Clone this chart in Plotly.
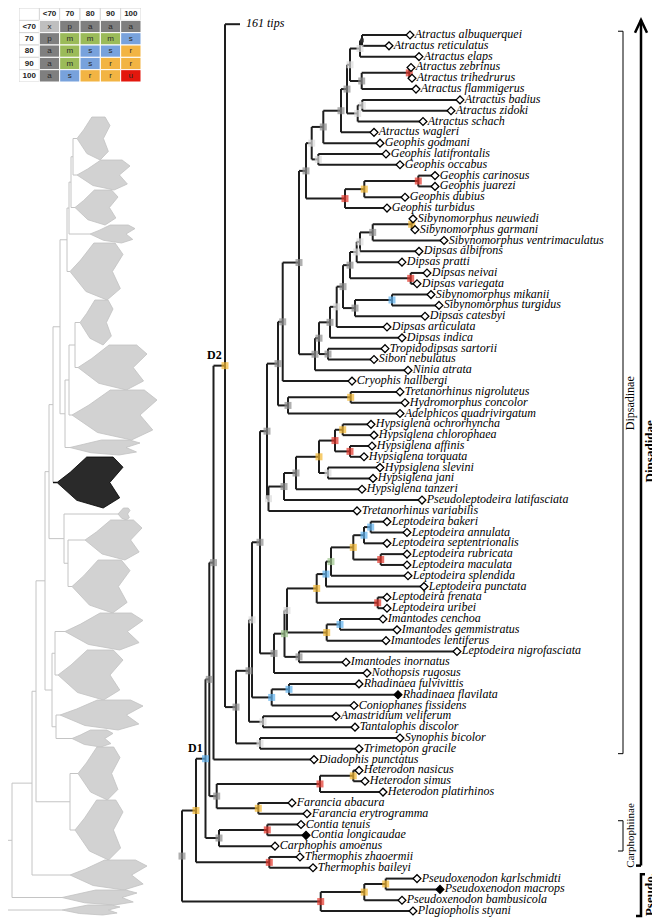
import plotly.graph_objects as go

# page body has an 8px margin: the figure is placed at (8, 8) in the window
OFF = 8
W, H = 652, 913
BOTTOM = OFF + H


def dx(px):
    return (px - OFF) / W


def dy(py):
    return 1 - (py - OFF) / H


# ---------------- main tree: tips (top to bottom) ----------------
tip_names = [
    "161 tips", "Atractus albuquerquei", "Atractus reticulatus", "Atractus elaps", "Atractus zebrinus",
    "Atractus trihedrurus", "Atractus flammigerus", "Atractus badius", "Atractus zidoki", "Atractus schach",
    "Atractus wagleri", "Geophis godmani", "Geophis latifrontalis", "Geophis occabus", "Geophis carinosus",
    "Geophis juarezi", "Geophis dubius", "Geophis turbidus", "Sibynomorphus neuwiedi", "Sibynomorphus garmani",
    "Sibynomorphus ventrimaculatus", "Dipsas albifrons", "Dipsas pratti", "Dipsas neivai", "Dipsas variegata",
    "Sibynomorphus mikanii", "Sibynomorphus turgidus", "Dipsas catesbyi", "Dipsas articulata", "Dipsas indica",
    "Tropidodipsas sartorii", "Sibon nebulatus", "Ninia atrata", "Cryophis hallbergi", "Tretanorhinus nigroluteus",
    "Hydromorphus concolor", "Adelphicos quadrivirgatum", "Hypsiglena ochrorhyncha", "Hypsiglena chlorophaea",
    "Hypsiglena affinis", "Hypsiglena torquata", "Hypsiglena slevini", "Hypsiglena jani", "Hypsiglena tanzeri",
    "Pseudoleptodeira latifasciata", "Tretanorhinus variabilis", "Leptodeira bakeri", "Leptodeira annulata",
    "Leptodeira septentrionalis", "Leptodeira rubricata", "Leptodeira maculata", "Leptodeira splendida",
    "Leptodeira punctata", "Leptodeira frenata", "Leptodeira uribei", "Imantodes cenchoa", "Imantodes gemmistratus",
    "Imantodes lentiferus", "Leptodeira nigrofasciata", "Imantodes inornatus", "Nothopsis rugosus",
    "Rhadinaea fulvivittis", "Rhadinaea flavilata", "Coniophanes fissidens", "Amastridium veliferum",
    "Tantalophis discolor", "Synophis bicolor", "Trimetopon gracile", "Diadophis punctatus", "Heterodon nasicus",
    "Heterodon simus", "Heterodon platirhinos", "Farancia abacura", "Farancia erytrogramma", "Contia tenuis",
    "Contia longicaudae", "Carphophis amoenus", "Thermophis zhaoermii", "Thermophis baileyi",
    "Pseudoxenodon karlschmidti", "Pseudoxenodon macrops", "Pseudoxenodon bambusicola", "Plagiopholis styani",
]
# distance of each tip from the root (relative units)
tip_depth = [
    58, 228, 207, 237, 229, 230, 234, 278, 269, 241,
    192, 198, 204, 218, 253, 253, 223, 205, 231, 233,
    262, 237, 220, 245, 235, 249, 257, 243, 205, 220,
    203, 192, 226, 170, 218, 223, 218, 189, 192, 190,
    182, 198, 191, 180, 240, 175, 205, 225, 205, 225,
    225, 226, 242, 205, 205, 201, 215, 204, 275, 164,
    185, 177, 216, 172, 154, 173, 218, 177, 132, 177,
    183, 201, 110, 125, 119, 124, 93, 118, 131, 235,
    258, 220, 231,
]
filled_tips = ["Rhadinaea flavilata", "Contia longicaudae", "Pseudoxenodon macrops"]

support_colors = {'g': '#8d8d8d', 'l': '#dcdcdc', 'r': '#e2342a', 'y': '#f2b630',
                  'b': '#5fb2ee', 'n': '#9cc48b', 'k': '#333333'}


def N(depth, support, *kids):
    return {'depth': depth, 'support': support, 'kids': list(kids)}


tree = N(0, 'g',
  N(14, 'y',
    N(23.5, 'b',
      N(27.3, 'g',
        N(31.5, 'g',
          N(43, 'y',
            "161 tips",
            N(54, 'g',
              N(67, 'g',
                N(70, 'l',
                  N(78, 'g',
                    N(85, 'g',
                      N(96, 'g',
                        N(100.7, 'g',
                          N(117, 'g',
                            N(124, 'g',
                              N(129.7, 'l',
                                N(141.3, 'g',
                                  N(159, 'g',
                                    N(165, 'g',
                                      N(168, 'l',
                                        N(178, 'l', N(180, 'k', "Atractus albuquerquei", "Atractus reticulatus"), "Atractus elaps"),
                                        N(179.7, 'g', N(227.3, 'r', "Atractus zebrinus", "Atractus trihedrurus"), "Atractus flammigerus")),
                                      N(175.7, 'l', N(180.3, 'l', "Atractus badius", "Atractus zidoki"), "Atractus schach")),
                                    "Atractus wagleri"),
                                  "Geophis godmani"),
                                N(136.3, 'l', "Geophis latifrontalis", "Geophis occabus")),
                              N(163, 'r', N(182.3, 'y', N(236.3, 'r', "Geophis carinosus", "Geophis juarezi"), "Geophis dubius"), "Geophis turbidus")),
                            N(133, 'g',
                              N(137, 'g',
                                N(148, 'g',
                                  N(154.7, 'l',
                                    N(161, 'g',
                                      N(168, 'g',
                                        N(174.7, 'l',
                                          N(178, 'l', N(190.7, 'g', N(229.7, 'y', "Sibynomorphus neuwiedi", "Sibynomorphus garmani"), "Sibynomorphus ventrimaculatus"), "Dipsas albifrons"),
                                          "Dipsas pratti"),
                                        N(228.7, 'r', "Dipsas neivai", "Dipsas variegata")),
                                      N(173, 'g', N(210, 'b', "Sibynomorphus mikanii", "Sibynomorphus turgidus"), "Dipsas catesbyi")),
                                    "Dipsas articulata"),
                                  "Dipsas indica"),
                                N(146, 'g', "Tropidodipsas sartorii", "Sibon nebulatus")),
                              "Ninia atrata")),
                          "Cryophis hallbergi"),
                        N(106, 'g', N(168.7, 'y', "Tretanorhinus nigroluteus", "Hydromorphus concolor"), "Adelphicos quadrivirgatum")),
                      N(86.5, 'l',
                        N(102, 'g',
                          N(114, 'g',
                            N(137, 'y',
                              N(153, 'r', N(160.7, 'y', "Hypsiglena ochrorhyncha", "Hypsiglena chlorophaea"), N(168, 'r', "Hypsiglena affinis", "Hypsiglena torquata")),
                              N(146, 'l', "Hypsiglena slevini", "Hypsiglena jani")),
                            "Hypsiglena tanzeri"),
                          "Pseudoleptodeira latifasciata"),
                        "Tretanorhinus variabilis")),
                    N(92, 'g',
                      N(102.5, 'n',
                        N(105, 'l',
                          N(134.7, 'y',
                            N(144, 'b',
                              N(149, 'n',
                                N(171.3, 'y',
                                  N(182, 'b', N(188.7, 'b', "Leptodeira bakeri", "Leptodeira annulata"), "Leptodeira septentrionalis"),
                                  N(198.7, 'r', "Leptodeira rubricata", "Leptodeira maculata")),
                                "Leptodeira splendida"),
                              "Leptodeira punctata"),
                            N(195.7, 'r', "Leptodeira frenata", "Leptodeira uribei")),
                          N(144.7, 'y', N(158, 'b', "Imantodes cenchoa", "Imantodes gemmistratus"), "Imantodes lentiferus")),
                        N(117, 'g', "Leptodeira nigrofasciata", "Imantodes inornatus")),
                      "Nothopsis rugosus")),
                  N(89.7, 'b', N(107, 'b', "Rhadinaea fulvivittis", "Rhadinaea flavilata"), "Coniophanes fissidens")),
                N(81, 'l', "Amastridium veliferum", "Tantalophis discolor")),
              N(78, 'l', "Synophis bicolor", "Trimetopon gracile"))),
          "Diadophis punctatus"),
        N(34.7, 'g',
          N(138, 'r', N(171.3, 'y', "Heterodon nasicus", "Heterodon simus"), "Heterodon platirhinos"),
          N(76.3, 'y', "Farancia abacura", "Farancia erytrogramma"))),
      N(37, 'g', N(85.3, 'r', "Contia tenuis", "Contia longicaudae"), "Carphophis amoenus")),
    N(87.3, 'r', "Thermophis zhaoermii", "Thermophis baileyi")),
  N(138.7, 'r',
    N(182.3, 'y', N(203.7, 'y', "Pseudoxenodon karlschmidti", "Pseudoxenodon macrops"), "Pseudoxenodon bambusicola"),
    "Plagiopholis styani"))

node_labels = {"D1": 23.5, "D2": 43}

# clade brackets (name, first tip, last tip)
clades_inner = [("Dipsadinae", "Atractus albuquerquei", "Trimetopon gracile"),
                ("Carphophiinae", "Contia tenuis", "Carphophis amoenus")]
clade_family = ("Dipsadidae", "Atractus albuquerquei", "Thermophis baileyi")
clade_pseudo = ("Pseudo.", "Pseudoxenodon karlschmidti", "Plagiopholis styani")

# ---------------- overview tree (collapsed clades) ----------------
ov_names = ['s1', 's2', 's3', 's4', 's5', 's6', 's7', 's8', 's9', 'black', 's10', 's11', 's12',
            's13', 's14', 's15', 's16', 's17', 's18', 's19', 's20a', 's20b']
ov_top = [17, 60, 90, 125, 143, 200, 245, 290, 340, 357, 408, 420, 460, 513, 550, 600, 630, 647, 700, 760, 790, 805]
ov_bot = [60, 90, 125, 143, 200, 245, 290, 340, 355, 408, 420, 460, 513, 550, 600, 630, 647, 700, 760, 790, 805, 815]
ov_base = [75, 75, 73, 88, 68, 78, 76, 70, 68, 55, 116, 83, 70, 63, 56, 58, 70, 76, 73, 68, 60, 60]
ov_tipd = [108, 128, 116, 133, 121, 111, 145, 155, 138, 121, 128, 140, 128, 141, 121, 141, 111, 118, 121, 145, 135, 118]

ov_tree = N(1, '', N(10, '', N(30, '', N(34, '',
    N(43, '',
      N(47, '',
        N(51, '',
          N(58, '',
            N(65, '', N(67, '', N(69, '', N(71, '', 's1', 's2'), 's3'), 's4'), 's5'),
            N(63, '', N(67, '', N(73, '', 's6', 's7'), 's8'), 's9')),
          'black'),
        N(62, '', 's10', N(66, '', 's11', 's12'))),
      N(50, '', N(53, '', 's13', 's14'), N(54, '', 's15', 's16'))),
    N(68, '', 's17', 's18')),
  's19'), 's20a'), 's20b')

# ---------------- support legend table ----------------
legend_levels = ["<70", "70", "80", "90", "100"]
legend_codes = [["x", "p", "a", "a", "a"],
                ["p", "m", "m", "m", "s"],
                ["a", "m", "s", "s", "r"],
                ["a", "m", "s", "r", "r"],
                ["a", "s", "r", "r", "u"]]
code_colors = {'x': '#bfbfbf', 'p': '#7f7f7f', 'a': '#7f7f7f', 'm': '#9bbb59',
               's': '#78a2dc', 'r': '#f2b443', 'u': '#e3170d'}

# =====================================================================
fig = go.Figure()
shapes, annotations = [], []

# ---- overview tree ----
ov_idx = {n: i for i, n in enumerate(ov_names)}
ov_lx, ov_ly = [], []
ov_bx, ov_by = [], []


def ov_layout(node):
    if isinstance(node, str):
        i = ov_idx[node]
        return ov_base[i], (ov_top[i] + ov_bot[i]) / 2
    d = node['depth']
    ys = []
    for k in node['kids']:
        kx, ky = ov_layout(k)
        if isinstance(k, str) and k == 'black':
            ov_bx.extend([d, kx, None]); ov_by.extend([ky, ky, None])
        else:
            ov_lx.extend([d, kx, None]); ov_ly.extend([ky, ky, None])
        ys.append(ky)
    ov_lx.extend([d, d, None]); ov_ly.extend([ys[0], ys[-1], None])
    return d, (ys[0] + ys[-1]) / 2


ov_layout(ov_tree)

fig.add_trace(go.Scatter(x=ov_lx, y=ov_ly, mode='lines', line=dict(color='#c4c4c4', width=1),
                         xaxis='x2', yaxis='y2', hoverinfo='skip', showlegend=False))
for i, n in enumerate(ov_names):
    t, b, x0, x1 = ov_top[i], ov_bot[i], ov_base[i], ov_tipd[i]
    h, w = b - t, x1 - x0
    m = (t + b) / 2
    px = [x0, x0 + 0.2 * w, x0 + 0.45 * w, x1 - 0.15 * w, x1, x1 - 0.2 * w, x1 - 0.05 * w, x1 - 0.3 * w, x0 + 0.3 * w, x0]
    py = [m, t + 0.3 * h, t, t, t + 0.2 * h, m, b - 0.2 * h, b, b - 0.15 * h, m]
    col = '#2a2a2a' if n == 'black' else '#d2d2d2'
    lcol = '#000000' if n == 'black' else '#c2c2c2'
    fig.add_trace(go.Scatter(x=px, y=py, mode='lines', fill='toself', fillcolor=col,
                             line=dict(color=lcol, width=0.8), xaxis='x2', yaxis='y2',
                             hoverinfo='skip', showlegend=False))
fig.add_trace(go.Scatter(x=ov_bx, y=ov_by, mode='lines', line=dict(color='#111', width=1.5),
                         xaxis='x2', yaxis='y2', hoverinfo='skip', showlegend=False))

# ---- main tree ----
tip_index = {n: i for i, n in enumerate(tip_names)}
lx, ly = [], []
nx, ny, nc, ns = [], [], [], []


def layout(node):
    if isinstance(node, str):
        i = tip_index[node]
        return tip_depth[i], i
    d = node['depth']
    ys = []
    for k in node['kids']:
        kx, ky = layout(k)
        lx.extend([d, kx, None]); ly.extend([ky, ky, None])
        ys.append(ky)
    lx.extend([d, d, None]); ly.extend([ys[0], ys[-1], None])
    y = (ys[0] + ys[-1]) / 2
    nx.append(d); ny.append(y); nc.append(support_colors[node['support']])
    ns.append(4 if node['support'] == 'k' else 7)
    return d, y


layout(tree)

fig.add_trace(go.Scatter(x=lx, y=ly, mode='lines', line=dict(color='#1e1e1e', width=2),
                         hoverinfo='skip', showlegend=False))
fig.add_trace(go.Scatter(x=nx, y=ny, mode='markers',
                         marker=dict(symbol='square', size=ns, color=nc, line=dict(width=0)),
                         hoverinfo='skip', showlegend=False))

tx = tip_depth[1:]
ty = list(range(1, len(tip_names)))
tt = tip_names[1:]
tfill = ['black' if n in filled_tips else 'white' for n in tt]
fig.add_trace(go.Scatter(x=tx, y=ty, mode='markers+text', text=tt, textposition='middle right',
                         textfont=dict(family='Liberation Serif', size=12, color='black', style='italic'),
                         marker=dict(symbol='diamond', size=6, color=tfill, line=dict(color='black', width=1.3)),
                         cliponaxis=False, hoverinfo='skip', showlegend=False))
fig.add_trace(go.Scatter(x=[tip_depth[0]], y=[0], mode='text', text=["  " + tip_names[0]],
                         textposition='middle right',
                         textfont=dict(family='Liberation Serif', size=12, color='black', style='italic'),
                         cliponaxis=False, hoverinfo='skip', showlegend=False))

for lab, dep in node_labels.items():
    k = nx.index(dep)
    annotations.append(dict(x=nx[k], y=ny[k], xref='x', yref='y', text='<b>%s</b>' % lab, showarrow=False,
                            xanchor='right', yanchor='bottom', xshift=-1, yshift=2,
                            font=dict(family='Liberation Serif', size=12, color='black')))

# brackets
xb_inner = 441
for name, a, b in clades_inner:
    y0, y1 = tip_index[a] - 0.35, tip_index[b] + 0.45
    shapes.append(dict(type='path', xref='x', yref='y',
                       path='M %g,%g L %g,%g L %g,%g L %g,%g' % (xb_inner - 5, y0, xb_inner, y0, xb_inner, y1, xb_inner - 5, y1),
                       line=dict(color='black', width=1)))
    annotations.append(dict(x=xb_inner + 7, y=(y0 + y1) / 2 + (1.0 if name == 'Dipsadinae' else 0), xref='x', yref='y',
                            text=name, textangle=-90, showarrow=False,
                            font=dict(family='Liberation Serif', size=12 if name == 'Dipsadinae' else 11, color='black')))

xb_out = 459
fy0, fy1 = tip_index[clade_family[1]] - 1.4, tip_index[clade_family[2]] - 0.2
shapes.append(dict(type='line', xref='x', yref='y', x0=xb_out, x1=xb_out, y0=fy0, y1=fy1,
                   line=dict(color='black', width=2.5)))
shapes.append(dict(type='line', xref='x', yref='y', x0=xb_out - 5, x1=xb_out, y0=fy1, y1=fy1,
                   line=dict(color='black', width=2.5)))
shapes.append(dict(type='path', xref='x', yref='y',
                   path='M %g,%g L %g,%g L %g,%g' % (xb_out - 6, fy0 + 1.2, xb_out, fy0, xb_out + 6, fy0 + 1.2),
                   line=dict(color='black', width=2.5)))
annotations.append(dict(x=xb_out + 8, y=39.5, xref='x', yref='y', text='<b>%s</b>' % clade_family[0],
                        textangle=-90, showarrow=False, xanchor='center',
                        font=dict(family='Liberation Serif', size=13, color='black')))

py0, py1 = tip_index[clade_pseudo[1]] - 0.4, tip_index[clade_pseudo[2]] + 0.45
shapes.append(dict(type='path', xref='x', yref='y',
                   path='M %g,%g L %g,%g L %g,%g L %g,%g' % (xb_out + 4, py0, xb_out, py0, xb_out, py1, xb_out - 5, py1),
                   line=dict(color='black', width=2.5)))
annotations.append(dict(x=xb_out + 8, y=(py0 + py1) / 2, xref='x', yref='y', text='<b>%s</b>' % clade_pseudo[0],
                        textangle=-90, showarrow=False, xanchor='center',
                        font=dict(family='Liberation Serif', size=13, color='black')))

# ---- legend table ----
for c, lev in enumerate(legend_levels):
    shapes.append(dict(type='rect', xref='x3', yref='y3', x0=c - 0.5, x1=c + 0.5, y0=-1.5, y1=-0.5,
                       fillcolor='white', line=dict(color='#d6d6d6', width=1), layer='below'))
    shapes.append(dict(type='rect', xref='x3', yref='y3', x0=-1.5, x1=-0.5, y0=c - 0.5, y1=c + 0.5,
                       fillcolor='white', line=dict(color='#d6d6d6', width=1), layer='below'))
shapes.append(dict(type='rect', xref='x3', yref='y3', x0=-1.5, x1=-0.5, y0=-1.5, y1=-0.5,
                   fillcolor='white', line=dict(color='#d6d6d6', width=1), layer='below'))
cx, cy, ctext = [], [], []
for r, row in enumerate(legend_codes):
    for c, code in enumerate(row):
        shapes.append(dict(type='rect', xref='x3', yref='y3', x0=c - 0.5, x1=c + 0.5, y0=r - 0.5, y1=r + 0.5,
                           fillcolor=code_colors[code], line=dict(color='white', width=1), layer='below'))
        cx.append(c); cy.append(r); ctext.append(code)
hx = list(range(5)) + [-1] * 5
hy = [-1] * 5 + list(range(5))
htext = ['<b>%s</b>' % l for l in legend_levels] * 2
fig.add_trace(go.Scatter(x=cx, y=cy, mode='text', text=ctext, xaxis='x3', yaxis='y3',
                         textfont=dict(family='Liberation Sans', size=8, color='#2a2a2a'),
                         cliponaxis=False, hoverinfo='skip', showlegend=False))
fig.add_trace(go.Scatter(x=hx, y=hy, mode='text', text=htext, xaxis='x3', yaxis='y3',
                         textfont=dict(family='Liberation Sans', size=8, color='#222'),
                         cliponaxis=False, hoverinfo='skip', showlegend=False))

# ---- layout ----
ax = dict(visible=False, showgrid=False, zeroline=False, fixedrange=True)
fig.update_layout(
    width=W, height=H, margin=dict(l=0, r=0, t=0, b=0),
    paper_bgcolor='white', plot_bgcolor='rgba(0,0,0,0)',
    xaxis=dict(ax, domain=[0, 1], range=[OFF - 182, 478]),
    yaxis=dict(ax, domain=[0, 1], range=[(BOTTOM - 24.2) / 10.815, (OFF - 24.2) / 10.815]),
    xaxis2=dict(ax, domain=[0, dx(157)], range=[OFF - 2, 155], anchor='y2'),
    yaxis2=dict(ax, domain=[0, dy(100)], range=[BOTTOM - 100, 0], anchor='x2'),
    xaxis3=dict(ax, domain=[dx(19), dx(141)], range=[-1.5, 4.5], anchor='y3'),
    yaxis3=dict(ax, domain=[dy(82), 1], range=[4.5, -1.5], anchor='x3'),
    shapes=shapes, annotations=annotations, showlegend=False,
)

fig.write_html("out.html")
